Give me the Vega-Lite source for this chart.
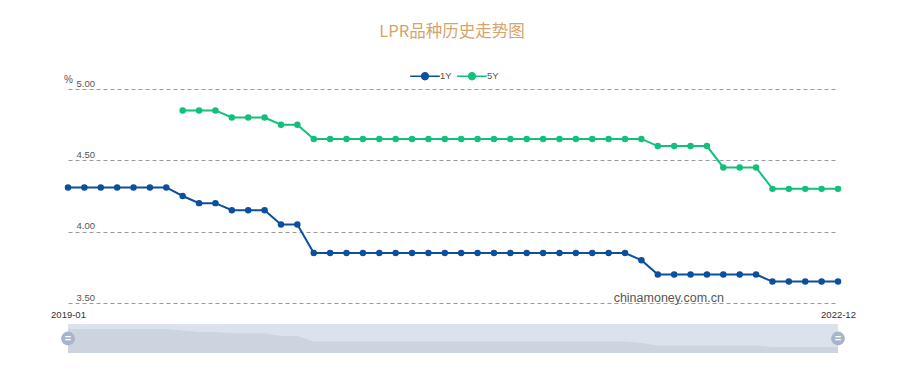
{
  "$schema": "https://vega.github.io/schema/vega-lite/v6.json",
  "background": "white",
  "padding": {"left": 50, "top": 23, "right": 40, "bottom": 5},
  "title": {"text": "LPR品种历史走势图", "color": "#D4A46C", "fontSize": 16.5, "fontWeight": "normal", "font": "Noto Sans CJK SC", "anchor": "middle", "offset": 26, "dx": -1},
  "config": {"view": {"stroke": null}, "font": "Liberation Sans", "concat": {"spacing": 5}},
  "datasets": {
    "lpr": [
      {"month": "2019-01", "y1": 4.31, "y5": null},
      {"month": "2019-02", "y1": 4.31, "y5": null},
      {"month": "2019-03", "y1": 4.31, "y5": null},
      {"month": "2019-04", "y1": 4.31, "y5": null},
      {"month": "2019-05", "y1": 4.31, "y5": null},
      {"month": "2019-06", "y1": 4.31, "y5": null},
      {"month": "2019-07", "y1": 4.31, "y5": null},
      {"month": "2019-08", "y1": 4.25, "y5": 4.85},
      {"month": "2019-09", "y1": 4.20, "y5": 4.85},
      {"month": "2019-10", "y1": 4.20, "y5": 4.85},
      {"month": "2019-11", "y1": 4.15, "y5": 4.80},
      {"month": "2019-12", "y1": 4.15, "y5": 4.80},
      {"month": "2020-01", "y1": 4.15, "y5": 4.80},
      {"month": "2020-02", "y1": 4.05, "y5": 4.75},
      {"month": "2020-03", "y1": 4.05, "y5": 4.75},
      {"month": "2020-04", "y1": 3.85, "y5": 4.65},
      {"month": "2020-05", "y1": 3.85, "y5": 4.65},
      {"month": "2020-06", "y1": 3.85, "y5": 4.65},
      {"month": "2020-07", "y1": 3.85, "y5": 4.65},
      {"month": "2020-08", "y1": 3.85, "y5": 4.65},
      {"month": "2020-09", "y1": 3.85, "y5": 4.65},
      {"month": "2020-10", "y1": 3.85, "y5": 4.65},
      {"month": "2020-11", "y1": 3.85, "y5": 4.65},
      {"month": "2020-12", "y1": 3.85, "y5": 4.65},
      {"month": "2021-01", "y1": 3.85, "y5": 4.65},
      {"month": "2021-02", "y1": 3.85, "y5": 4.65},
      {"month": "2021-03", "y1": 3.85, "y5": 4.65},
      {"month": "2021-04", "y1": 3.85, "y5": 4.65},
      {"month": "2021-05", "y1": 3.85, "y5": 4.65},
      {"month": "2021-06", "y1": 3.85, "y5": 4.65},
      {"month": "2021-07", "y1": 3.85, "y5": 4.65},
      {"month": "2021-08", "y1": 3.85, "y5": 4.65},
      {"month": "2021-09", "y1": 3.85, "y5": 4.65},
      {"month": "2021-10", "y1": 3.85, "y5": 4.65},
      {"month": "2021-11", "y1": 3.85, "y5": 4.65},
      {"month": "2021-12", "y1": 3.80, "y5": 4.65},
      {"month": "2022-01", "y1": 3.70, "y5": 4.60},
      {"month": "2022-02", "y1": 3.70, "y5": 4.60},
      {"month": "2022-03", "y1": 3.70, "y5": 4.60},
      {"month": "2022-04", "y1": 3.70, "y5": 4.60},
      {"month": "2022-05", "y1": 3.70, "y5": 4.45},
      {"month": "2022-06", "y1": 3.70, "y5": 4.45},
      {"month": "2022-07", "y1": 3.70, "y5": 4.45},
      {"month": "2022-08", "y1": 3.65, "y5": 4.30},
      {"month": "2022-09", "y1": 3.65, "y5": 4.30},
      {"month": "2022-10", "y1": 3.65, "y5": 4.30},
      {"month": "2022-11", "y1": 3.65, "y5": 4.30},
      {"month": "2022-12", "y1": 3.65, "y5": 4.30}
    ],
    "mark": [{"month": "2021-10", "y": 3.5, "label": "chinamoney.com.cn"}],
    "handles": [{"month": "2019-01", "v": 3.96}, {"month": "2022-12", "v": 3.96}]
  },
  "vconcat": [
    {
      "width": 770,
      "height": 214,
      "data": {"name": "lpr"},
      "transform": [{"fold": ["y1", "y5"], "as": ["key", "value"]}, {"filter": "datum.value != null"}, {"calculate": "datum.key == 'y1' ? '1Y' : '5Y'", "as": "series"}],
      "encoding": {
        "x": {"field": "month", "type": "ordinal", "sort": null, "scale": {"type": "point", "padding": 0},
          "axis": {"title": null, "labelExpr": "(datum.value == '2019-01' || datum.value == '2022-12') ? datum.value : ''", "domain": false, "ticks": false, "labelAngle": 0, "labelPadding": 6, "labelFontSize": 9.5, "labelColor": "#333", "grid": false, "labelOverlap": false, "labelBound": false, "labelFlush": false}},
        "y": {"field": "value", "type": "quantitative", "scale": {"domain": [3.5, 5.0], "nice": false, "zero": false},
          "axis": {"title": "%", "titleAngle": 0, "titleX": 0, "titleY": -10, "titleAlign": "center", "titleBaseline": "middle", "titleFontWeight": "normal", "titleFontSize": 10, "titleColor": "#555",
            "values": [3.5, 4.0, 4.5, 5.0], "format": ".2f", "domain": false, "ticks": false, "labelAlign": "left", "labelBaseline": "bottom", "labelPadding": -8, "labelOffset": -1, "labelFontSize": 9.5, "labelColor": "#555",
            "grid": true, "gridDash": [4, 3], "gridColor": "#9a9a9a", "gridWidth": 1}},
        "color": {"field": "series", "type": "nominal", "scale": {"domain": ["1Y", "5Y"], "range": ["#0B4F9E", "#12C07A"]},
          "legend": {"title": null, "orient": "none", "legendX": 347, "legendY": -23, "direction": "horizontal", "labelFontSize": 9.5, "labelColor": "#555", "symbolType": "M-1.5,-0.07H1.5V0.07H-1.5Z M0.42,0A0.42,0.42 0 1,1 -0.42,0A0.42,0.42 0 1,1 0.42,0Z", "symbolSize": 390, "symbolStrokeWidth": 0, "columnPadding": 5, "labelOffset": 5,
            "encode": {"symbols": {"update": {"fill": {"scale": "color", "field": "value"}, "fillOpacity": {"value": 1}}}}}}
      },
      "layer": [
        {"mark": {"type": "line", "strokeWidth": 2}},
        {"mark": {"type": "point", "filled": true, "size": 42, "opacity": 1}},
        {"data": {"name": "mark"}, "transform": [], "mark": {"type": "text", "align": "left", "baseline": "alphabetic", "dx": 5, "dy": -1, "fontSize": 12.5, "color": "#555"},
          "encoding": {"x": {"field": "month", "type": "ordinal"}, "y": {"field": "y", "type": "quantitative"}, "text": {"field": "label"}, "color": {"value": "#555"}}}
      ]
    },
    {
      "width": 770,
      "height": 29,
      "view": {"fill": "#DCE2EB", "stroke": null},
      "layer": [
        {"data": {"name": "lpr"}, "mark": {"type": "area", "color": "#CBD4DF", "interpolate": "linear", "clip": true},
          "encoding": {"x": {"field": "month", "type": "ordinal", "sort": null, "scale": {"type": "point", "padding": 0}, "axis": null},
            "y": {"field": "y1", "type": "quantitative", "scale": {"domain": [3.43, 4.49], "nice": false, "zero": false}, "axis": null},
            "y2": {"datum": 3.43}}},
        {"data": {"name": "handles"}, "mark": {"type": "point", "filled": true, "size": 190, "color": "#A6B5CC", "opacity": 1, "clip": false},
          "encoding": {"x": {"field": "month", "type": "ordinal"}, "y": {"field": "v", "type": "quantitative"}}},
        {"data": {"name": "handles"}, "mark": {"type": "text", "text": "=", "color": "white", "fontSize": 11, "fontWeight": "bold", "baseline": "middle", "align": "center"},
          "encoding": {"x": {"field": "month", "type": "ordinal"}, "y": {"field": "v", "type": "quantitative"}}}
      ]
    }
  ]
}
